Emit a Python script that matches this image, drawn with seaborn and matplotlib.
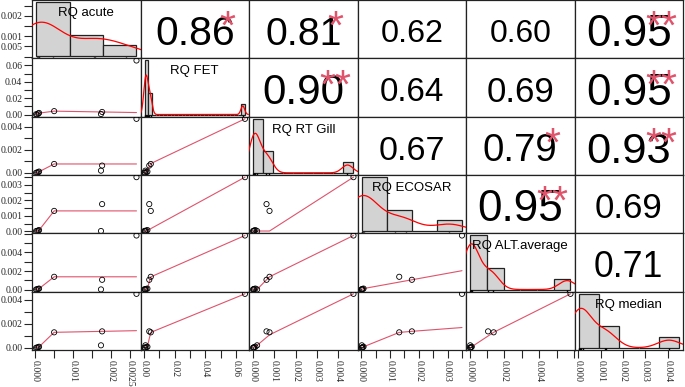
# %% data (8 samples, 6 risk quotients)
import numpy as np
import pandas as pd
import seaborn as sns
import matplotlib.pyplot as plt

names = ["RQ acute", "RQ FET", "RQ RT Gill", "RQ ECOSAR", "RQ ALT.average", "RQ median"]

rq_acute = [0.00268, 0.00050, 0.00177, 0.00174, 0.00005, 0.00010, 0.00002, 0.00008]
rq_fet = [0.0660, 0.0043, 0.0033, 0.0008, 0.0002, 0.0021, 0.0005, 0.0014]
rq_gill = [0.00470, 0.00078, 0.00064, 0.00020, 0.00004, 0.00012, 0.00001, 0.00006]
rq_ecosar = [0.00350, 0.00132, 0.00176, 0.00002, 0.00003, 0.00008, 0.00001, 0.00005]
rq_alt = [0.00580, 0.00138, 0.00106, 0.00003, 0.00005, 0.00012, 0.00002, 0.00008]
rq_median = [0.00450, 0.00130, 0.00138, 0.00022, 0.00004, 0.00010, 0.00001, 0.00006]

# correlation coefficients and significance stars printed in the upper panels
cor_rows = [0, 0, 0, 0, 0, 1, 1, 1, 1, 2, 2, 2, 3, 3, 4]
cor_cols = [1, 2, 3, 4, 5, 2, 3, 4, 5, 3, 4, 5, 4, 5, 5]
cor_vals = [0.86, 0.81, 0.62, 0.60, 0.95, 0.90, 0.64, 0.69, 0.95, 0.67, 0.79, 0.93, 0.95, 0.69, 0.71]
cor_stars = ["*", "*", "", "", "**", "**", "", "", "**", "", "*", "**", "**", "", ""]

# histogram breaks (width, upper end) per variable
bin_width = [0.001, 0.0025, 0.0005, 0.001, 0.001, 0.001]
bin_top = [0.003, 0.0675, 0.005, 0.004, 0.006, 0.005]

# axis ticks per variable
tick_step = [0.0005, 0.01, 0.001, 0.0005, 0.001, 0.001]
left_vals = [[0.002, 0.001, 0.0005], [0, 0.02, 0.04, 0.06], [0, 0.002, 0.004],
             [0, 0.001, 0.002, 0.003], [0, 0.002, 0.004], [0, 0.002, 0.004]]
left_text = [["0.002", "0.001", "0.005"], ["0.00", "0.02", "0.04", "0.06"], ["0.00", "0.002", "0.004"],
             ["0.00", "0.001", "0.002", "0.003"], ["0.00", "0.002", "0.004"], ["0.00", "0.002", "0.004"]]
bottom_vals = [[0, 0.001, 0.002, 0.0025], [0, 0.02, 0.04, 0.06], [0, 0.001, 0.002, 0.003, 0.004],
               [0, 0.001, 0.002, 0.003], [0, 0.002, 0.004], [0, 0.001, 0.002, 0.003, 0.004]]
bottom_text = [["0.000", "0.001", "0.002", "0.0025"], ["0.00", "0.02", "0.04", "0.06"],
               ["0.000", "0.001", "0.002", "0.003", "0.004"], ["0.000", "0.001", "0.002", "0.003"],
               ["0.000", "0.002", "0.004"], ["0.000", "0.001", "0.002", "0.003", "0.004"]]

data = pd.DataFrame(dict(zip(names, [rq_acute, rq_fet, rq_gill, rq_ecosar, rq_alt, rq_median])))


# %% helpers: R-style lowess smoother and nrd0 bandwidth
def _lowest(x, y, xs, nleft, nright, userw, rw):
    n = len(x)
    rng = x[-1] - x[0]
    h = max(xs - x[nleft], x[nright] - xs)
    h9, h1 = 0.999 * h, 0.001 * h
    w = np.zeros(n)
    a = 0.0
    j = nleft
    while j < n:
        r = abs(x[j] - xs)
        if r <= h9:
            w[j] = 1.0 if r <= h1 else (1 - (r / h) ** 3) ** 3
            if userw:
                w[j] *= rw[j]
            a += w[j]
        elif x[j] > xs:
            break
        j += 1
    nrt = j - 1
    if a <= 0:
        return 0.0, False
    w[nleft:nrt + 1] /= a
    if h > 0:
        a = np.sum(w[nleft:nrt + 1] * x[nleft:nrt + 1])
        b = xs - a
        c = np.sum(w[nleft:nrt + 1] * (x[nleft:nrt + 1] - a) ** 2)
        if np.sqrt(c) > 0.001 * rng:
            b /= c
            w[nleft:nrt + 1] *= b * (x[nleft:nrt + 1] - a) + 1
    return np.sum(w[nleft:nrt + 1] * y[nleft:nrt + 1]), True


def lowess(x, y, f=2 / 3, nsteps=3):
    order = np.argsort(x, kind="stable")
    x = np.asarray(x, float)[order]
    y = np.asarray(y, float)[order]
    n = len(x)
    ns = max(2, min(n, int(f * n + 1e-7)))
    delta = 0.01 * (x[-1] - x[0])
    ys = np.zeros(n)
    rw = np.ones(n)
    it = 1
    while it <= nsteps + 1:
        nleft, nright, last, i = 0, ns - 1, -1, 0
        while True:
            if nright < n - 1:
                if x[i] - x[nleft] > x[nright + 1] - x[i]:
                    nleft += 1
                    nright += 1
                    continue
            val, ok = _lowest(x, y, x[i], nleft, nright, it > 1, rw)
            ys[i] = val if ok else y[i]
            if last < i - 1:
                denom = x[i] - x[last]
                for j in range(last + 1, i):
                    alpha = (x[j] - x[last]) / denom
                    ys[j] = alpha * ys[i] + (1 - alpha) * ys[last]
            last = i
            cut = x[last] + delta
            i = last + 1
            while i < n:
                if x[i] > cut:
                    break
                if x[i] == x[last]:
                    ys[i] = ys[last]
                    last = i
                i += 1
            i = max(last + 1, i - 1)
            if last >= n - 1:
                break
        res = y - ys
        sc = np.mean(np.abs(res))
        if it > nsteps:
            break
        cmad = 6 * np.median(np.abs(res))
        if cmad < 1e-7 * sc:
            break
        r = np.abs(res)
        rw = np.where(r <= 0.001 * cmad, 1.0, np.where(r <= 0.999 * cmad, (1 - (r / cmad) ** 2) ** 2, 0.0))
        it += 1
    return x, ys


def bw_nrd0(v):
    v = np.asarray(v, float)
    iqr = np.subtract(*np.percentile(v, [75, 25]))
    return 0.9 * min(v.std(ddof=1), iqr / 1.34) * len(v) ** -0.2


# %% figure
sns.set_style("white")
plt.rcParams["font.family"] = ["Liberation Sans", "DejaVu Sans"]

fig = plt.figure(figsize=(6.85, 3.87), dpi=100)
L, R, T, B = 32 / 685, 683 / 685, 1.0, 1 - 350 / 387
cw, rh = (R - L) / 6, (T - B) / 6

lims = []
for nm in names:
    v = data[nm]
    span = v.max() - v.min()
    lims.append((v.min() - 0.04 * span, v.max() + 0.04 * span))

smooth_col = "#DF536B"
tick_font = dict(family="Liberation Serif", size=7)

for i in range(6):
    for j in range(6):
        pos = [L + j * cw, T - (i + 1) * rh, cw, rh]
        ax = fig.add_axes(pos)
        ax.set_xlim(lims[j])
        ax.set_ylim(lims[i])
        for s in ax.spines.values():
            s.set_color("#222222")
            s.set_linewidth(0.9)
        ax.set_xticks([])
        ax.set_yticks([])

        if i > j:
            # lower panels: scatter + lowess smoother
            xv, yv = data[names[j]], data[names[i]]
            sns.scatterplot(x=xv, y=yv, ax=ax, marker="o", s=14, facecolor="none",
                            edgecolor="black", linewidth=0.6, legend=False, zorder=3)
            lx, ly = lowess(xv, yv)
            ax.plot(lx, ly, color=smooth_col, lw=0.8, zorder=2)
            ax.set_xlabel("")
            ax.set_ylabel("")
        elif i < j:
            # upper panels: correlation coefficient scaled by |r|
            k = [n for n in range(len(cor_vals)) if cor_rows[n] == i and cor_cols[n] == j][0]
            r = cor_vals[k]
            fs = 33 * (abs(r) + 0.3) / 1.3
            ax.annotate(f"{r:.2f}", xy=(0.5, 0.5), xycoords="axes fraction",
                        xytext=(0, -(0.358 * fs + 1.1)), textcoords="offset points",
                        ha="center", va="baseline", fontsize=fs, color="black")
            if cor_stars[k]:
                ax.annotate(cor_stars[k], xy=(0.8, 1.0), xycoords="axes fraction",
                            xytext=(0, -(11 + 0.575 * 29.5)), textcoords="offset points",
                            ha="center", va="baseline", fontsize=29.5, color=smooth_col)
        else:
            # diagonal: histogram + density + rug on own scale
            hax = fig.add_axes(pos)
            hax.patch.set_alpha(0)
            v = data[names[i]]
            breaks = np.arange(0, bin_top[i] + bin_width[i] / 2, bin_width[i])
            sns.histplot(x=v, bins=breaks, stat="density", ax=hax, color="#D3D3D3",
                         edgecolor="#222222", linewidth=0.9, alpha=1)
            dens_max = max(p.get_height() for p in hax.patches)
            bw = bw_nrd0(v)
            sns.kdeplot(x=v, bw_method=bw / v.std(ddof=1), cut=3, gridsize=512,
                        color="red", lw=0.9, ax=hax)
            sns.rugplot(x=v, height=0.03, color="black", lw=0.8, ax=hax)
            span = breaks[-1] - breaks[0]
            hax.set_xlim(breaks[0] - 0.04 * span, breaks[-1] + 0.04 * span)
            hax.set_ylim(-0.04 * dens_max, 1.04 * dens_max)
            hax.set_axis_off()
            hax.annotate(names[i], xy=(0.5, 1.0), xycoords="axes fraction",
                         xytext=(0, -11.5), textcoords="offset points",
                         ha="center", va="baseline", fontsize=9.5, color="black", zorder=5)

        # axes on left column and bottom row
        if j == 0:
            ticks = np.arange(0, lims[i][1], tick_step[i])
            ax.set_yticks(ticks)
            labs = []
            for t in ticks:
                hit = [n for n, lv in enumerate(left_vals[i]) if abs(lv - t) < 1e-9]
                labs.append(left_text[i][hit[0]] if hit else "")
            ax.set_yticklabels(labs, fontdict=tick_font)
            ax.tick_params(axis="y", direction="out", length=5.5, width=0.8, pad=1.5, left=True)
        if i == 5:
            ticks = np.arange(0, lims[j][1], tick_step[j])
            ax.set_xticks(ticks)
            labs = []
            for t in ticks:
                hit = [n for n, lv in enumerate(bottom_vals[j]) if abs(lv - t) < 1e-9]
                labs.append(bottom_text[j][hit[0]] if hit else "")
            ax.set_xticklabels(labs, fontdict=tick_font, rotation=270, va="top")
            ax.tick_params(axis="x", direction="out", length=5.5, width=0.8, pad=1.5, bottom=True)

fig.savefig("out.png", dpi=100)
